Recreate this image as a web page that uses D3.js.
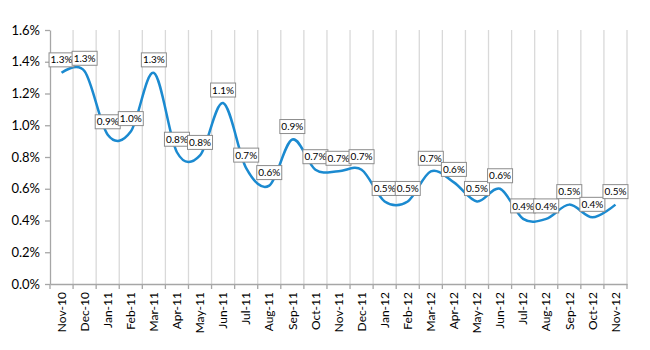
<!DOCTYPE html>
<html>
<head>
<meta charset="utf-8">
<script src="https://cdn.jsdelivr.net/npm/d3@7"></script>
<style>
  body { margin: 0; background: #fff; }
  text { font-family: Lato, "Open Sans", sans-serif; }
</style>
</head>
<body>
<div id="chart"></div>
<script>
// Data
const months = ["Nov-10", "Dec-10", "Jan-11", "Feb-11", "Mar-11", "Apr-11", "May-11", "Jun-11",
  "Jul-11", "Aug-11", "Sep-11", "Oct-11", "Nov-11", "Dec-11", "Jan-12", "Feb-12", "Mar-12",
  "Apr-12", "May-12", "Jun-12", "Jul-12", "Aug-12", "Sep-12", "Oct-12", "Nov-12"];
const rates = [1.33, 1.34, 0.94, 0.96, 1.33, 0.83, 0.81, 1.14, 0.73, 0.62, 0.91, 0.72, 0.71, 0.72,
  0.52, 0.52, 0.71, 0.64, 0.52, 0.60, 0.41, 0.41, 0.50, 0.42, 0.50];
const yTicks = [0, 0.2, 0.4, 0.6, 0.8, 1.0, 1.2, 1.4, 1.6];

const margin = {top: 30, right: 23, bottom: 66, left: 50};
const width = 650 - margin.left - margin.right;
const height = 350 - margin.top - margin.bottom;

const svg = d3.select("#chart")
  .append("svg")
    .attr("width", 650)
    .attr("height", 350)
  .append("g")
    .attr("transform", `translate(${margin.left},${margin.top})`);

const data = months.map((m, i) => ({month: m, value: rates[i]}));

// Scales
const x = d3.scaleBand()
  .domain(months)
  .range([0, width]);

const y = d3.scaleLinear()
  .domain([0, 1.6])
  .range([height, 0]);

// Vertical gridlines at category boundaries
const bounds = d3.range(months.length + 1).map(i => i * x.step());
svg.append("g")
  .selectAll("line")
  .data(bounds.slice(1))
  .enter()
  .append("line")
    .attr("x1", d => d)
    .attr("x2", d => d)
    .attr("y1", 0)
    .attr("y2", height)
    .attr("stroke", "#d9d9d9")
    .attr("stroke-width", 1.3);

// X axis
const xAxis = svg.append("g")
  .attr("transform", `translate(0,${height})`)
  .call(d3.axisBottom(x).tickSize(0).tickSizeOuter(0));
xAxis.select(".domain").attr("stroke", "#a6a6a6").attr("stroke-width", 1.3);
xAxis.selectAll("text")
  .attr("transform", "rotate(-90)")
  .attr("text-anchor", "end")
  .attr("x", -8)
  .attr("y", 0)
  .attr("dy", "0.35em")
  .style("font-size", "12px")
  .attr("fill", "#000");
svg.append("g")
  .selectAll("line")
  .data(bounds)
  .enter()
  .append("line")
    .attr("x1", d => d)
    .attr("x2", d => d)
    .attr("y1", height)
    .attr("y2", height + 5)
    .attr("stroke", "#a6a6a6")
    .attr("stroke-width", 1.3);

// Y axis
const yAxis = svg.append("g")
  .call(d3.axisLeft(y).tickValues(yTicks).tickFormat(d => d.toFixed(1) + "%").tickSize(5).tickSizeOuter(0));
yAxis.select(".domain").attr("stroke", "#a6a6a6").attr("stroke-width", 1.3);
yAxis.selectAll(".tick line").attr("stroke", "#a6a6a6").attr("stroke-width", 1.3);
yAxis.selectAll("text")
  .style("font-size", "13px")
  .attr("x", -10)
  .attr("fill", "#000");

// Line
const line = d3.line()
  .x(d => x(d.month) + x.bandwidth() / 2)
  .y(d => y(d.value))
  .curve(d3.curveCardinal.tension(0));

svg.append("path")
  .datum(data)
  .attr("fill", "none")
  .attr("stroke", "#1b8ad0")
  .attr("stroke-width", 2.5)
  .attr("d", line);

// Data labels
const labels = svg.append("g")
  .selectAll("g")
  .data(data)
  .enter()
  .append("g")
    .attr("transform", d => `translate(${x(d.month) + x.bandwidth() / 2},${y(d.value) - 13})`);

labels.append("rect")
  .attr("x", -12.5)
  .attr("y", -7)
  .attr("width", 25)
  .attr("height", 14)
  .attr("fill", "#fff")
  .attr("stroke", "#8c8c8c")
  .attr("stroke-width", 1);

labels.append("text")
  .attr("text-anchor", "middle")
  .attr("dy", "0.36em")
  .style("font-size", "10px")
  .attr("fill", "#000")
  .text(d => d.value.toFixed(1) + "%");
</script>
</body>
</html>
